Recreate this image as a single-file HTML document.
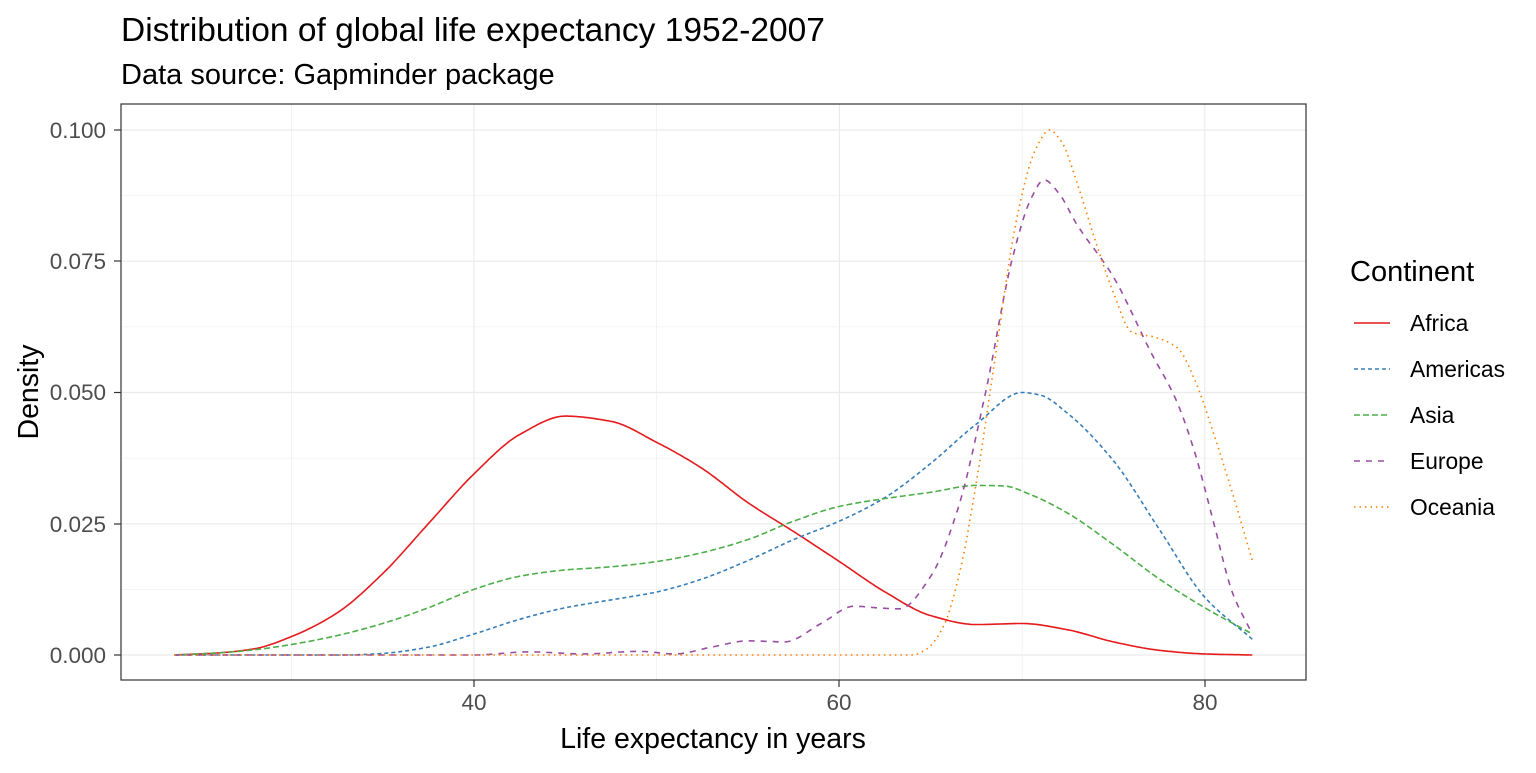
<!DOCTYPE html>
<html><head><meta charset="utf-8"><style>
body{margin:0;background:#fff;}
svg text{font-family:"Liberation Sans",Arial,sans-serif;}
</style></head><body>
<svg id="s" width="1536" height="768" xmlns="http://www.w3.org/2000/svg">
<rect width="1536" height="768" fill="#fff"/>
<g id="grid"></g>
<rect x="121" y="104" width="1185" height="576" fill="none" stroke="#333" stroke-width="1.2"/>
<g id="curves" fill="none" stroke-width="1.6"></g>
<g font-size="22.5" fill="#4d4d4d">
<text x="106" y="663" text-anchor="end">0.000</text>
<text x="106" y="532" text-anchor="end">0.025</text>
<text x="106" y="400" text-anchor="end">0.050</text>
<text x="106" y="269" text-anchor="end">0.075</text>
<text x="106" y="138" text-anchor="end">0.100</text>
<text x="474" y="710" text-anchor="middle">40</text>
<text x="839" y="710" text-anchor="middle">60</text>
<text x="1205" y="710" text-anchor="middle">80</text>
</g>
<g stroke="#333" stroke-width="1.2">
<line x1="114" x2="121" y1="655" y2="655"/><line x1="114" x2="121" y1="524" y2="524"/>
<line x1="114" x2="121" y1="392.5" y2="392.5"/><line x1="114" x2="121" y1="261" y2="261"/>
<line x1="114" x2="121" y1="130" y2="130"/>
<line x1="474" x2="474" y1="680" y2="687"/><line x1="839" x2="839" y1="680" y2="687"/><line x1="1205" x2="1205" y1="680" y2="687"/>
</g>
<text x="121" y="41" font-size="33.5">Distribution of global life expectancy 1952-2007</text>
<text x="121" y="84" font-size="29">Data source: Gapminder package</text>
<text x="713" y="748" font-size="28.5" text-anchor="middle">Life expectancy in years</text>
<text transform="translate(38,392) rotate(-90)" font-size="28.5" text-anchor="middle">Density</text>
<text x="1350" y="281" font-size="29">Continent</text>
<g font-size="22.8" fill="#000">
<text x="1410" y="331">Africa</text><text x="1410" y="377">Americas</text>
<text x="1410" y="423">Asia</text><text x="1410" y="469">Europe</text><text x="1410" y="515">Oceania</text>
</g>
<g stroke-width="1.6">
<line x1="1354" x2="1390" y1="323" y2="323" stroke="#E41A1C"/>
<line x1="1354" x2="1390" y1="369" y2="369" stroke="#377EB8" stroke-dasharray="4,3"/>
<line x1="1354" x2="1390" y1="415" y2="415" stroke="#4DAF4A" stroke-dasharray="6,3"/>
<line x1="1354" x2="1390" y1="461" y2="461" stroke="#984EA3" stroke-dasharray="6,6"/>
<line x1="1354" x2="1390" y1="507" y2="507" stroke="#FF7F00" stroke-dasharray="1.5,4"/>
</g>
</svg>
<script>
const X=v=>474+(v-40)*18.27, Y=d=>655-d*5250;
const ns="http://www.w3.org/2000/svg";
const g=document.getElementById('grid');
function ln(p,x1,y1,x2,y2,w){const l=document.createElementNS(ns,'line');l.setAttribute('x1',x1);l.setAttribute('y1',y1);l.setAttribute('x2',x2);l.setAttribute('y2',y2);l.setAttribute('stroke','#ebebeb');l.setAttribute('stroke-width',w);p.appendChild(l);}
[0.0125,0.0375,0.0625,0.0875].forEach(d=>ln(g,121,Y(d),1306,Y(d),0.6));
[30,50,70].forEach(v=>ln(g,X(v),104,X(v),680,0.6));
[0,0.025,0.05,0.075,0.1].forEach(d=>ln(g,121,Y(d),1306,Y(d),1.2));
[40,60,80].forEach(v=>ln(g,X(v),104,X(v),680,1.2));
// monotone cubic (Fritsch-Carlson)
function mono(pts){const n=pts.length,xs=pts.map(p=>p[0]),ys=pts.map(p=>p[1]);
const d=[],m=[];for(let i=0;i<n-1;i++)d.push((ys[i+1]-ys[i])/(xs[i+1]-xs[i]));
m[0]=d[0];m[n-1]=d[n-2];
for(let i=1;i<n-1;i++){if(d[i-1]*d[i]<=0)m[i]=0;else{const h0=xs[i]-xs[i-1],h1=xs[i+1]-xs[i];m[i]=3*(h0+h1)/((2*h1+h0)/d[i-1]+(h1+2*h0)/d[i]);}}
return x=>{let i=0;while(i<n-2&&x>xs[i+1])i++;const h=xs[i+1]-xs[i],t=(x-xs[i])/h;
const h00=2*t*t*t-3*t*t+1,h10=t*t*t-2*t*t+t,h01=-2*t*t*t+3*t*t,h11=t*t*t-t*t;
return h00*ys[i]+h10*h*m[i]+h01*ys[i+1]+h11*h*m[i+1];};}
function path(pts){const f=mono(pts);let s='';const a=pts[0][0],b=pts[pts.length-1][0];
for(let x=a;x<=b+1e-9;x+=0.1){s+=(s?' L':'M')+X(x).toFixed(1)+','+Y(Math.max(0,f(x))).toFixed(1);}return s;}
const S={
Africa:[[23.6,0],[26,0.0004],[28,0.0012],[30,0.0035],[32.5,0.008],[35,0.0155],[37.5,0.025],[40,0.0345],[42.5,0.042],[45,0.0455],[47.5,0.0445],[50,0.0405],[52.5,0.0355],[55,0.029],[57.5,0.0235],[60,0.0178],[62.5,0.012],[65,0.0075],[67.5,0.0058],[70,0.006],[72.5,0.0048],[75,0.0025],[77.5,0.0009],[80,0.0002],[82.6,0]],
Americas:[[23.6,0],[33,0],[35,0.0003],[37.5,0.0015],[40,0.004],[42.5,0.0068],[45,0.009],[47.5,0.0105],[50,0.012],[52.5,0.0145],[55,0.018],[57.5,0.022],[60,0.0255],[62.5,0.03],[65,0.0365],[67.5,0.044],[70,0.05],[71,0.0495],[72.5,0.046],[75,0.037],[77.5,0.024],[80,0.011],[82.6,0.003]],
Asia:[[23.6,0],[26,0.0004],[28,0.001],[30,0.002],[32.5,0.0037],[35,0.006],[37.5,0.009],[40,0.0125],[42.5,0.015],[45,0.0162],[47.5,0.0168],[50,0.0178],[52.5,0.0195],[55,0.022],[57.5,0.0255],[60,0.0283],[62.5,0.0298],[65,0.031],[67.5,0.0323],[69,0.0322],[70.5,0.0305],[72.5,0.027],[75,0.021],[77.5,0.0145],[80,0.009],[82.6,0.004]],
Europe:[[23.6,0],[40,0],[43,0.0006],[46,0.0002],[49,0.0007],[51,0.0002],[53,0.0015],[55,0.0027],[57,0.0025],[59,0.006],[60.8,0.0093],[62,0.009],[63.3,0.0088],[65,0.015],[66.5,0.028],[68,0.05],[69.5,0.076],[70.5,0.087],[71.2,0.0905],[72,0.088],[73,0.082],[75,0.072],[77,0.058],[78.5,0.048],[79.5,0.038],[80.5,0.025],[81.5,0.012],[82.6,0.004]],
Oceania:[[23.6,0],[64,0],[64.8,0.0012],[65.7,0.0055],[66.6,0.016],[67.5,0.033],[68.5,0.056],[69.7,0.083],[70.7,0.096],[71.5,0.1],[72.2,0.0975],[73,0.09],[74,0.079],[75,0.069],[76,0.0615],[77.3,0.0605],[78.5,0.0585],[79.5,0.052],[80.5,0.042],[81.5,0.031],[82.6,0.018]]};
const st={Africa:['#E41A1C',''],Americas:['#377EB8','4,3'],Asia:['#4DAF4A','6,3'],Europe:['#984EA3','6,6'],Oceania:['#FF7F00','1.5,4']};
const c=document.getElementById('curves');
for(const k in S){const p=document.createElementNS(ns,'path');p.setAttribute('d',path(S[k]));p.setAttribute('stroke',st[k][0]);if(st[k][1])p.setAttribute('stroke-dasharray',st[k][1]);c.appendChild(p);}
</script>
</body></html>
